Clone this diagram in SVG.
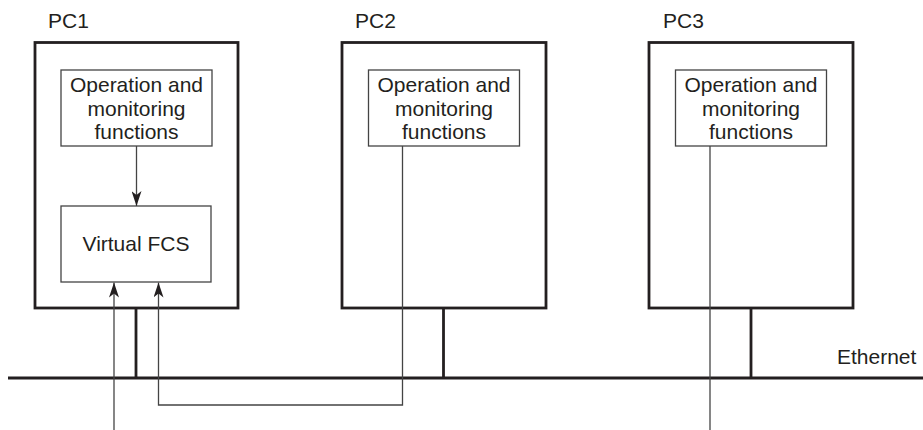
<svg xmlns="http://www.w3.org/2000/svg" width="923" height="430" viewBox="0 0 923 430">
<style>
text{font-family:"Liberation Sans",Arial,sans-serif;font-size:21px;fill:#231f20}
.pc{fill:none;stroke:#231f20;stroke-width:2.8}
.fn{fill:#fff;stroke:#444;stroke-width:1.3}
.thick{fill:none;stroke:#231f20;stroke-width:2.8}
.thin{fill:none;stroke:#444;stroke-width:1.3}
</style>
<defs>
<marker id="ah" viewBox="0 0 15 10" refX="15" refY="5" markerWidth="15" markerHeight="10" markerUnits="userSpaceOnUse" orient="auto">
<path d="M0,0 L15,5 L0,10 L4,5 Z" fill="#231f20"/>
</marker>
</defs>
<rect width="923" height="430" fill="#fff"/>
<g id="ethernet">
<line class="thick" x1="8" y1="378" x2="923" y2="378"/>
<text x="837" y="364">Ethernet</text>
</g>
<g id="pc1">
<text x="48" y="28">PC1</text>
<rect class="pc" x="35" y="42.5" width="203" height="265.5"/>
<g id="pc1-omf">
<rect class="fn" x="61" y="70" width="151" height="76"/>
<text x="136.5" y="92" text-anchor="middle">Operation and</text>
<text x="136.5" y="115.5" text-anchor="middle">monitoring</text>
<text x="136.5" y="139" text-anchor="middle">functions</text>
</g>
<g id="pc1-vfcs">
<rect class="fn" x="61" y="206" width="150" height="76"/>
<text x="136" y="251" text-anchor="middle">Virtual FCS</text>
</g>
</g>
<g id="pc2">
<text x="355" y="28">PC2</text>
<rect class="pc" x="342" y="42.5" width="204" height="265.5"/>
<g id="pc2-omf">
<rect class="fn" x="368.5" y="70" width="151" height="76"/>
<text x="444" y="92" text-anchor="middle">Operation and</text>
<text x="444" y="115.5" text-anchor="middle">monitoring</text>
<text x="444" y="139" text-anchor="middle">functions</text>
</g>
</g>
<g id="pc3">
<text x="663" y="28">PC3</text>
<rect class="pc" x="649" y="42.5" width="204" height="265.5"/>
<g id="pc3-omf">
<rect class="fn" x="675.5" y="70" width="151" height="76"/>
<text x="751" y="92" text-anchor="middle">Operation and</text>
<text x="751" y="115.5" text-anchor="middle">monitoring</text>
<text x="751" y="139" text-anchor="middle">functions</text>
</g>
</g>
<g id="connectors">
<line class="thick" x1="136" y1="308" x2="136" y2="378"/>
<line class="thick" x1="443.5" y1="308" x2="443.5" y2="378"/>
<line class="thick" x1="751" y1="308" x2="751" y2="378"/>
<line class="thin" x1="136.5" y1="146" x2="136.5" y2="206" marker-end="url(#ah)"/>
<line class="thin" x1="114" y1="430" x2="114" y2="282.5" marker-end="url(#ah)"/>
<polyline class="thin" points="402.5,146 402.5,405 158.5,405 158.5,282.5" marker-end="url(#ah)"/>
<line class="thin" x1="710" y1="146" x2="710" y2="430"/>
</g>
</svg>
